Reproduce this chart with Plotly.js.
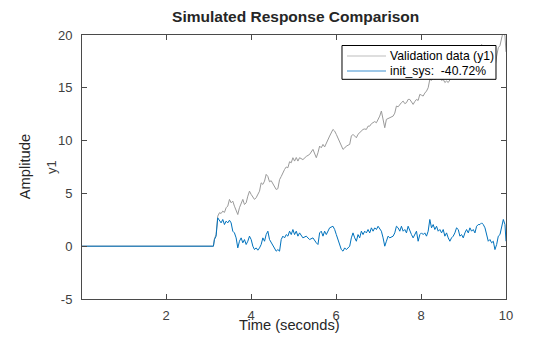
<!DOCTYPE html>
<html>
<head>
<meta charset="utf-8">
<script src="https://cdn.plot.ly/plotly-3.0.1.min.js"></script>
<style>
html,body{margin:0;padding:0;background:#fff;}
#chart{width:560px;height:337px;}
</style>
</head>
<body>
<div id="chart"></div>
<script>
// Time samples (seconds)
const time = [0.02,3.113,3.137,3.176,3.215,3.255,3.294,3.333,3.373,3.412,3.451,3.491,3.530,3.569,3.608,3.648,3.687,3.726,3.766,3.805,3.844,3.884,3.923,3.962,4.002,4.041,4.080,4.119,4.159,4.198,4.237,4.277,4.316,4.355,4.395,4.434,4.473,4.513,4.552,4.591,4.630,4.670,4.709,4.748,4.788,4.827,4.866,4.906,4.945,4.984,5.024,5.063,5.102,5.141,5.220,5.299,5.377,5.456,5.535,5.574,5.613,5.652,5.692,5.731,5.770,5.849,5.927,5.967,6.006,6.045,6.085,6.124,6.163,6.203,6.242,6.321,6.360,6.399,6.439,6.478,6.517,6.556,6.596,6.635,6.674,6.714,6.753,6.792,6.832,6.871,6.910,6.950,6.989,7.028,7.067,7.107,7.146,7.185,7.225,7.264,7.343,7.382,7.421,7.461,7.500,7.539,7.579,7.618,7.657,7.696,7.736,7.775,7.814,7.854,7.893,7.932,7.972,8.011,8.050,8.089,8.129,8.168,8.207,8.247,8.286,8.325,8.365,8.404,8.443,8.483,8.522,8.561,8.601,8.640,8.679,8.718,8.758,8.797,8.836,8.876,8.915,8.954,8.994,9.033,9.072,9.112,9.151,9.190,9.229,9.269,9.308,9.347,9.387,9.426,9.465,9.505,9.544,9.583,9.622,9.662,9.701,9.740,9.780,9.819,9.858,9.898,9.937,9.976,10.000];

// Simulated response of init_sys
const initSys = [0,0,0.63,0.95,2.68,2.37,2.21,2.53,2.05,2.37,2.21,2.46,2.21,1.42,1.26,0.79,-0.16,0.47,0.79,0.32,0.63,0.16,0.47,0.95,0.63,0,-0.32,-0.16,-0.38,-0.16,0.16,0.79,0.47,1.10,1.42,0.63,0.32,0.16,-0.16,-0.47,-0.32,-0.47,0.63,0.95,0.79,1.10,0.95,1.42,1.10,1.58,1.10,1.42,0.95,1.26,0.79,0.95,0.63,0.79,0.32,0.16,1.26,1.42,0.95,1.42,1.10,1.74,1.89,1.58,1.10,0.63,0.32,-0.32,-0.47,-0.16,-0.32,0,0.79,1.26,0.79,0.47,1.10,0.79,1.42,1.10,1.42,1.26,1.58,1.26,1.74,1.42,1.74,1.58,1.89,1.58,1.42,0.79,0,0.47,0.95,0.79,0.95,1.26,1.89,1.74,1.42,1.89,1.42,1.58,1.26,1.89,1.42,1.10,0.79,1.10,1.42,0.47,1.10,1.26,1.10,1.26,0.95,1.42,2.53,1.74,2.05,1.58,1.89,1.42,1.58,1.26,1.58,0.95,1.26,0.79,0.47,0.79,0.95,1.26,1.74,1.58,0.95,1.10,0.79,1.26,1.58,1.26,1.74,1.42,1.58,1.26,1.89,2.05,2.05,2.21,2.05,1.74,1.10,0.47,0.63,0.32,0.47,-0.32,0.16,0.95,1.10,1.89,2.53,2.05,0.47];

// Measured validation data (y1)
const validation = [0,0,0.7,1.1,2.84,3.17,3.1,3.32,3.2,3.64,3.8,4.43,4.11,4.27,3.79,3.32,3.0,3.64,4.11,4.43,3.95,4.11,4.74,5.21,4.9,4.59,4.43,4.59,4.9,5.21,6.0,5.85,6.16,6.8,6.6,6.1,6.2,5.9,5.7,5.37,5.45,6.3,6.6,6.96,7.27,7.5,7.43,8.0,7.9,8.38,8.06,8.4,8.06,8.38,8.2,8.5,8.69,9.17,8.38,8.85,9.48,9.32,9.64,9.4,9.8,10.43,11.06,10.9,10.59,10.2,9.8,9.4,9.17,9.3,9.48,9.64,10.43,10.59,10.4,10.27,10.6,10.75,11.0,11.06,11.1,11.06,11.37,11.37,11.6,11.69,11.8,11.69,12.0,12.32,12.8,12.01,11.22,12.01,12.1,12.17,12.32,12.6,13.27,13.2,13.43,13.6,13.74,13.5,13.59,13.9,13.9,13.6,13.43,13.7,13.9,13.8,14.38,14.3,14.22,14.5,14.69,15.0,15.8,15.7,15.96,15.8,16.11,15.9,15.96,15.7,15.8,15.5,15.64,15.5,15.8,16.0,16.11,16.5,16.9,16.8,16.6,16.8,16.7,17.1,17.4,17.3,17.7,17.6,17.8,17.6,18.3,18.6,18.7,19.1,18.9,18.5,17.9,17.4,17.6,17.3,17.5,16.9,18.0,18.8,19.0,19.8,20.4,19.9,18.4];

const seriesNames = ['Validation data (y1)', 'init_sys:  -40.72%'];
const seriesColors = ['#9a9a9a', '#0072BD'];
const legendSampleColors = ['#bdbdbd', '#3d8fd0'];
const xTicks = [2, 4, 6, 8, 10];
const yTicks = [-5, 0, 5, 10, 15, 20];

const axisColor = '#4a4a4a';
const textColor = '#262626';
const tickColor = '#404040';
const FONT = 'Liberation Sans, Arial, Helvetica, sans-serif';

const traces = [
  {x: time, y: validation, type: 'scatter', mode: 'lines', name: seriesNames[0],
   line: {color: seriesColors[0], width: 1}},
  {x: time, y: initSys, type: 'scatter', mode: 'lines', name: seriesNames[1],
   line: {color: seriesColors[1], width: 1}}
];

// Legend box geometry in paper fractions (plot area spans 424 x 264 px)
const LB = {x0: 0.6132, x1: 0.9764, y0: 0.8321, y1: 0.9602};
const rowY = [0.9204, 0.8636];
const sampleX = [0.6250, 0.7170];
const textX = 0.7225;

const shapes = [
  {type: 'rect', xref: 'paper', yref: 'paper', x0: LB.x0, x1: LB.x1, y0: LB.y0, y1: LB.y1,
   line: {color: '#000000', width: 1}, fillcolor: '#ffffff', layer: 'above'}
];
const annotations = [
  {text: 'Time (seconds)', xref: 'paper', yref: 'paper', x: 0.489, y: -0.098,
   xanchor: 'center', yanchor: 'middle', showarrow: false,
   font: {family: FONT, size: 14.7, color: textColor}},
  {text: 'Amplitude', xref: 'paper', yref: 'paper', x: -0.134, y: 0.5,
   xanchor: 'center', yanchor: 'middle', textangle: -90, showarrow: false,
   font: {family: FONT, size: 14.7, color: textColor}},
  {text: 'y1', xref: 'paper', yref: 'paper', x: -0.073, y: 0.5,
   xanchor: 'center', yanchor: 'middle', textangle: -90, showarrow: false,
   font: {family: FONT, size: 13, color: tickColor}}
];
seriesNames.forEach((nm, i) => {
  shapes.push({type: 'line', xref: 'paper', yref: 'paper', x0: sampleX[0], x1: sampleX[1],
               y0: rowY[i], y1: rowY[i], line: {color: legendSampleColors[i], width: 1.2}, layer: 'above'});
  annotations.push({text: nm, xref: 'paper', yref: 'paper', x: textX, y: rowY[i],
                    xanchor: 'left', yanchor: 'middle', showarrow: false,
                    font: {family: FONT, size: 12.2, color: '#000000'}});
});

const layout = {
  width: 560, height: 337,
  margin: {l: 82, r: 54, t: 35, b: 38, pad: 0},
  paper_bgcolor: '#ffffff', plot_bgcolor: '#ffffff',
  font: {family: FONT, size: 13, color: tickColor},
  title: {text: '<b>Simulated Response Comparison</b>', font: {family: FONT, size: 15.5, color: textColor},
          x: 0.528, xanchor: 'center', y: 0.95, yanchor: 'middle'},
  showlegend: false,
  xaxis: {range: [0.02, 10], tickvals: xTicks, ticktext: xTicks.map(String),
          ticks: 'inside', ticklen: 5, tickcolor: axisColor, tickwidth: 1,
          showline: true, linecolor: axisColor, linewidth: 1, mirror: 'ticks',
          showgrid: false, zeroline: false, ticklabelstandoff: 4,
          tickfont: {family: FONT, size: 13, color: tickColor}},
  yaxis: {range: [-5, 20], tickvals: yTicks, ticktext: yTicks.map(String),
          ticks: 'inside', ticklen: 5, tickcolor: axisColor, tickwidth: 1,
          showline: true, linecolor: axisColor, linewidth: 1, mirror: 'ticks',
          showgrid: false, zeroline: false, ticklabelstandoff: 6,
          tickfont: {family: FONT, size: 13, color: tickColor}},
  shapes: shapes,
  annotations: annotations
};

Plotly.newPlot('chart', traces, layout, {displayModeBar: false, staticPlot: true});
</script>
</body>
</html>
